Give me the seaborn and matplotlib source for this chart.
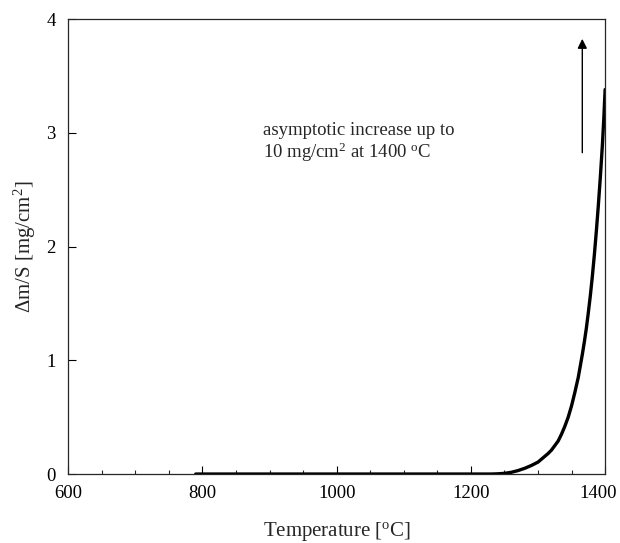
import numpy as np
import pandas as pd
from matplotlib import pyplot as plt
from matplotlib.ticker import MultipleLocator
from matplotlib.transforms import ScaledTranslation
import seaborn as sns

# values
temperature = [790, 900, 1000, 1100, 1200, 1230, 1240, 1250, 1260, 1270, 1280,
               1290, 1300, 1305, 1310, 1315, 1320, 1325, 1330, 1335, 1340,
               1345, 1350, 1355, 1360, 1363, 1366, 1369, 1372, 1375, 1378,
               1381, 1384, 1387, 1390, 1393, 1396, 1398, 1400]
mass_gain = [0.0, 0.0, 0.0, 0.0, 0.0, 0.0, 0.002, 0.006, 0.015, 0.03, 0.05,
             0.075, 0.105, 0.13, 0.155, 0.18, 0.21, 0.25, 0.29, 0.35, 0.42,
             0.50, 0.60, 0.72, 0.85, 0.95, 1.05, 1.16, 1.28, 1.42, 1.57,
             1.74, 1.93, 2.14, 2.37, 2.62, 2.90, 3.12, 3.38]
xticks = [600, 800, 1000, 1200, 1400]
yticks = [0, 1, 2, 3, 4]
note = 'asymptotic increase up to\n10 mg/cm$^2$ at 1400 $\\rm{^o}$C'

df = pd.DataFrame({'T': temperature, 'dm': mass_gain})

sns.set_style('ticks')
plt.rcParams['font.family'] = ['Liberation Serif', 'DejaVu Serif']
plt.rcParams['mathtext.fontset'] = 'custom'
plt.rcParams['mathtext.rm'] = 'Liberation Serif'
plt.rcParams['mathtext.it'] = 'Liberation Serif:italic'

fig = plt.figure(figsize=(6.2, 5.43), dpi=100)
ax = fig.add_axes([0.11, 0.127, 0.866, 0.838])

sns.lineplot(data=df, x='T', y='dm', color='black', linewidth=2.4, ax=ax)

ax.annotate('', xy=(1366, 3.85), xytext=(1366, 2.8),
            arrowprops=dict(arrowstyle='-|>', color='black', lw=1.0,
                            mutation_scale=14))
ax.text(890, 2.91, note, fontsize=13.5, va='center', ha='left', linespacing=1.05)

ax.set_xlim(600, 1400)
ax.set_ylim(0, 4)
ax.set_xticks(xticks)
ax.set_yticks(yticks)
ax.xaxis.set_minor_locator(MultipleLocator(50))
ax.tick_params(which='major', direction='in', length=6, width=0.8,
               labelsize=13.5, colors='black')
ax.tick_params(which='minor', direction='in', length=3, width=0.8)
ax.tick_params(axis='y', pad=9)
ax.tick_params(axis='x', pad=8)
for s in ax.spines.values():
    s.set_linewidth(0.9)
    s.set_visible(True)

# last x label sits a little left of its tick, as in the original
last = ax.get_xticklabels()[-1]
last.set_transform(last.get_transform() + ScaledTranslation(-5 / 72, 0, fig.dpi_scale_trans))

ax.set_xlabel('Temperature [$\\rm{^o}$C]', fontsize=15, labelpad=13)
ax.set_ylabel('$\\Delta$m/S [mg/cm$^2$]', fontsize=15, labelpad=6)

plt.savefig('out.png', dpi=100)
plt.close()
